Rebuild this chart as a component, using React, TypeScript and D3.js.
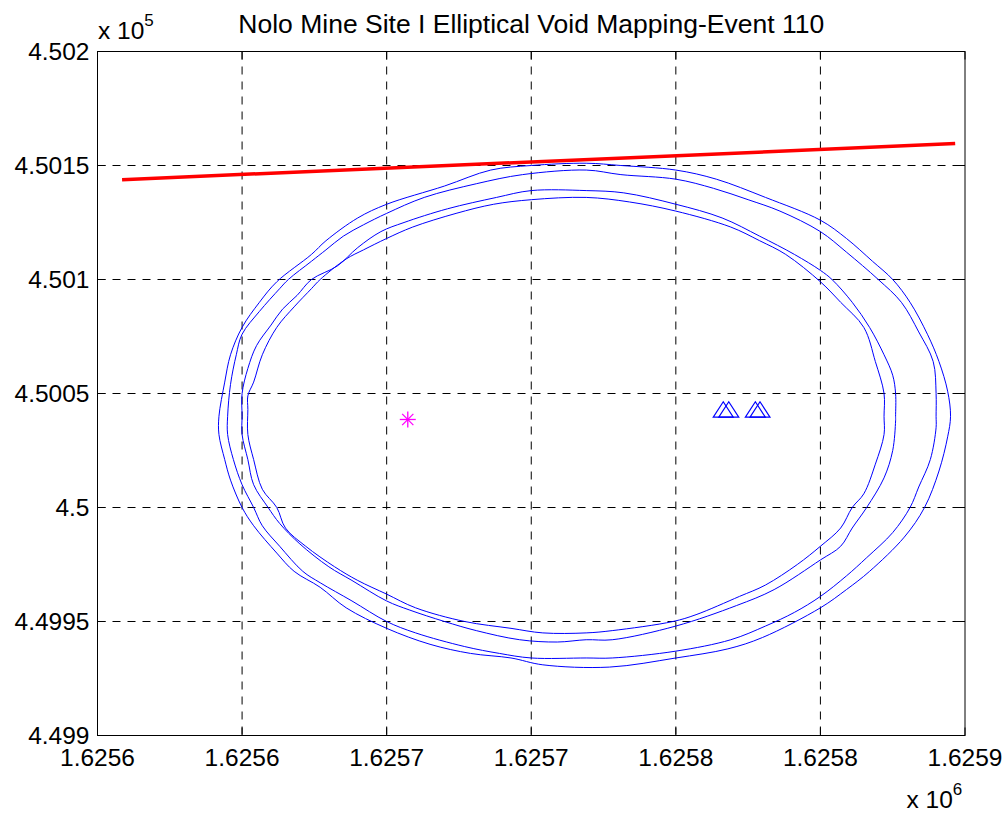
import React from 'react';
import * as d3 from 'd3';

// Axis ticks (values in metres, labels as printed with the shared exponent)
const xTickValues = [1625550, 1625600, 1625650, 1625700, 1625750, 1625800, 1625850];
const xTickLabels = ['1.6256', '1.6256', '1.6257', '1.6257', '1.6258', '1.6258', '1.6259'];
const yTickValues = [449900, 449950, 450000, 450050, 450100, 450150, 450200];
const yTickLabels = ['4.499', '4.4995', '4.5', '4.5005', '4.501', '4.5015', '4.502'];

const titleText = 'Nolo Mine Site I Elliptical Void Mapping-Event 110';

// Void boundary contours (easting, northing), outermost first
const contourA: [number, number][] = [
  [1625719, 450151], [1625731, 450150], [1625750, 450148], [1625764, 450144], [1625781, 450136],
  [1625800, 450126], [1625809, 450118], [1625818, 450108], [1625825, 450100], [1625831, 450090],
  [1625837, 450076], [1625841, 450064], [1625844, 450051], [1625845, 450040], [1625844, 450031],
  [1625841, 450016], [1625836, 450000], [1625829, 449987], [1625817, 449972], [1625809, 449964],
  [1625800, 449956], [1625780, 449943], [1625768, 449938], [1625750, 449934], [1625727, 449930],
  [1625704, 449931], [1625693, 449934], [1625679, 449936], [1625665, 449940], [1625650, 449947],
  [1625636, 449956], [1625627, 449965], [1625618, 449972], [1625612, 449980], [1625604, 449992],
  [1625600, 450000], [1625596, 450012], [1625594, 450021], [1625592, 450032], [1625592, 450040],
  [1625594, 450055], [1625596, 450067], [1625600, 450079], [1625606, 450090], [1625612, 450099],
  [1625624, 450111], [1625629, 450117], [1625640, 450127], [1625650, 450133], [1625670, 450141],
  [1625686, 450148], [1625700, 450150],
];

const contourB: [number, number][] = [
  [1625719, 450148], [1625731, 450146], [1625750, 450144], [1625763, 450140], [1625775, 450135],
  [1625786, 450130], [1625800, 450121], [1625809, 450112], [1625820, 450100], [1625828, 450090],
  [1625834, 450077], [1625839, 450064], [1625840, 450050], [1625840, 450040], [1625840, 450035],
  [1625838, 450021], [1625834, 450009], [1625831, 450000], [1625825, 449989], [1625816, 449978],
  [1625809, 449970], [1625800, 449961], [1625791, 449954], [1625781, 449948], [1625769, 449942],
  [1625750, 449937], [1625728, 449934], [1625719, 449934], [1625700, 449934], [1625689, 449936],
  [1625677, 449939], [1625660, 449945], [1625650, 449950], [1625638, 449959], [1625627, 449967],
  [1625621, 449972], [1625613, 449983], [1625607, 449992], [1625604, 450000], [1625600, 450010],
  [1625597, 450021], [1625595, 450032], [1625595, 450040], [1625596, 450054], [1625598, 450067],
  [1625600, 450076], [1625606, 450086], [1625613, 450096], [1625616, 450100], [1625624, 450108],
  [1625629, 450113], [1625635, 450119], [1625642, 450124], [1625650, 450129], [1625663, 450136],
  [1625681, 450142], [1625697, 450146],
];

const contourC: [number, number][] = [
  [1625719, 450139], [1625732, 450138], [1625750, 450133], [1625766, 450127], [1625779, 450119],
  [1625791, 450111], [1625800, 450104], [1625804, 450100], [1625811, 450090], [1625817, 450079],
  [1625822, 450067], [1625825, 450058], [1625826, 450050], [1625826, 450040], [1625826, 450038],
  [1625825, 450025], [1625822, 450013], [1625816, 450000], [1625811, 449991], [1625807, 449983],
  [1625800, 449977], [1625784, 449964], [1625771, 449957], [1625750, 449948], [1625728, 449942],
  [1625719, 449942], [1625709, 449941], [1625696, 449942], [1625681, 449946], [1625670, 449950],
  [1625658, 449955], [1625650, 449959], [1625638, 449968], [1625630, 449974], [1625620, 449984],
  [1625613, 449993], [1625609, 450000], [1625604, 450010], [1625602, 450021], [1625600, 450032],
  [1625600, 450040], [1625600, 450050], [1625602, 450061], [1625605, 450071], [1625610, 450080],
  [1625614, 450087], [1625619, 450093], [1625624, 450100], [1625633, 450106], [1625640, 450114],
  [1625648, 450121], [1625656, 450125], [1625671, 450131], [1625688, 450136], [1625700, 450139],
];

const contourD: [number, number][] = [
  [1625719, 450136], [1625734, 450134], [1625750, 450130], [1625769, 450123], [1625779, 450117],
  [1625788, 450111], [1625800, 450099], [1625807, 450090], [1625815, 450079], [1625819, 450064],
  [1625822, 450050], [1625822, 450040], [1625822, 450032], [1625819, 450019], [1625815, 450006],
  [1625811, 450000], [1625807, 449991], [1625800, 449983], [1625792, 449975], [1625781, 449966],
  [1625772, 449961], [1625757, 449953], [1625749, 449950], [1625728, 449946], [1625719, 449945],
  [1625704, 449945], [1625693, 449947], [1625677, 449950], [1625660, 449956], [1625650, 449962],
  [1625640, 449968], [1625632, 449974], [1625622, 449983], [1625615, 449991], [1625612, 450000],
  [1625607, 450008], [1625604, 450021], [1625602, 450032], [1625602, 450043], [1625602, 450049],
  [1625604, 450055], [1625607, 450067], [1625612, 450079], [1625618, 450088], [1625624, 450096],
  [1625627, 450100], [1625636, 450109], [1625642, 450113], [1625650, 450118], [1625659, 450123],
  [1625674, 450129], [1625687, 450133], [1625700, 450135],
];

const contours = [contourA, contourB, contourC, contourD];

// Reference boundary line (two end points)
const boundaryLine: [number, number][] = [
  [1625558.5, 450143.8],
  [1625846.6, 450159.6],
];

// Estimated event location
const eventPoint: [number, number] = [1625657.3, 450038.6];

// Sensor stations
const sensorPoints: [number, number][] = [
  [1625766.4, 450043],
  [1625768.3, 450043],
  [1625777.5, 450043],
  [1625779.1, 450043],
];

const FONT = '"Liberation Sans", Arial, Helvetica, sans-serif';

export default function App() {
  const W = 1008;
  const H = 813;
  const left = 97.5;
  const right = 965;
  const top = 51.5;
  const bottom = 735.5;

  const x = d3.scaleLinear().domain([1625550, 1625850]).range([left, right]);
  const y = d3.scaleLinear().domain([449900, 450200]).range([bottom, top]);

  const closed = d3
    .line<[number, number]>()
    .x((d) => x(d[0]))
    .y((d) => y(d[1]))
    .curve(d3.curveCatmullRomClosed.alpha(0.5));
  const open = d3
    .line<[number, number]>()
    .x((d) => x(d[0]))
    .y((d) => y(d[1]));

  const tickLen = 8;
  const ex = x(eventPoint[0]);
  const ey = y(eventPoint[1]);
  const r = 8;
  const rd = 5.6;

  return (
    <svg
      width={W}
      height={H}
      style={{ position: 'absolute', left: 0, top: 0, background: '#fff' }}
    >
      <rect x={0} y={0} width={W} height={H} fill="#fff" />

      {/* grid */}
      <g stroke="#000" strokeWidth={1} strokeDasharray="8,7" fill="none">
        {xTickValues.slice(1, -1).map((v) => (
          <line key={'gx' + v} x1={x(v)} x2={x(v)} y1={top} y2={bottom} />
        ))}
        {yTickValues.slice(1, -1).map((v) => (
          <line key={'gy' + v} x1={left} x2={right} y1={y(v)} y2={y(v)} />
        ))}
      </g>

      {/* tick marks on all four sides */}
      <g stroke="#000" strokeWidth={1}>
        {xTickValues.map((v) => (
          <g key={'tx' + v}>
            <line x1={x(v)} x2={x(v)} y1={bottom} y2={bottom - tickLen} />
            <line x1={x(v)} x2={x(v)} y1={top} y2={top + tickLen} />
          </g>
        ))}
        {yTickValues.map((v) => (
          <g key={'ty' + v}>
            <line x1={left} x2={left + tickLen} y1={y(v)} y2={y(v)} />
            <line x1={right} x2={right - tickLen} y1={y(v)} y2={y(v)} />
          </g>
        ))}
      </g>

      {/* void contours */}
      <g fill="none" stroke="#0000ff" strokeWidth={1}>
        {contours.map((c, i) => (
          <path key={'c' + i} d={closed(c) || ''} />
        ))}
      </g>

      {/* boundary line */}
      <path d={open(boundaryLine) || ''} fill="none" stroke="#ff0000" strokeWidth={3.5} />

      {/* event location */}
      <g stroke="#ff00ff" strokeWidth={1.3}>
        <line x1={ex - r} x2={ex + r} y1={ey} y2={ey} />
        <line x1={ex} x2={ex} y1={ey - r} y2={ey + r} />
        <line x1={ex - rd} x2={ex + rd} y1={ey - rd} y2={ey + rd} />
        <line x1={ex - rd} x2={ex + rd} y1={ey + rd} y2={ey - rd} />
      </g>

      {/* sensors */}
      <g fill="none" stroke="#0000ff" strokeWidth={1.2}>
        {sensorPoints.map((p, i) => {
          const cx = x(p[0]);
          const cy = y(p[1]);
          return (
            <path
              key={'s' + i}
              d={`M${cx},${cy - 7.7}L${cx + 10},${cy + 7.7}L${cx - 10},${cy + 7.7}Z`}
            />
          );
        })}
      </g>

      {/* frame */}
      <rect x={left} y={top} width={right - left} height={bottom - top} fill="none" stroke="#000" strokeWidth={1} />

      {/* tick labels */}
      <g fontFamily={FONT} fontSize={24.5} fill="#000">
        {xTickValues.map((v, i) => (
          <text key={'lx' + v} x={x(v)} y={bottom + 30} textAnchor="middle">
            {xTickLabels[i]}
          </text>
        ))}
        {yTickValues.map((v, i) => (
          <text key={'ly' + v} x={left - 8} y={y(v) + 8.5} textAnchor="end">
            {yTickLabels[i]}
          </text>
        ))}
      </g>

      {/* exponent labels */}
      <text x={left + 0.5} y={38.5} fontFamily={FONT} fontSize={24.5} fill="#000">
        x 10
        <tspan fontSize={17} dy={-13}>5</tspan>
      </text>
      <text x={906.5} y={808} fontFamily={FONT} fontSize={24.5} fill="#000">
        x 10
        <tspan fontSize={17} dy={-13}>6</tspan>
      </text>

      {/* title */}
      <text
        x={(left + right) / 2}
        y={33}
        textAnchor="middle"
        fontFamily={FONT}
        fontSize={26.5}
        fill="#000"
      >
        {titleText}
      </text>
    </svg>
  );
}
